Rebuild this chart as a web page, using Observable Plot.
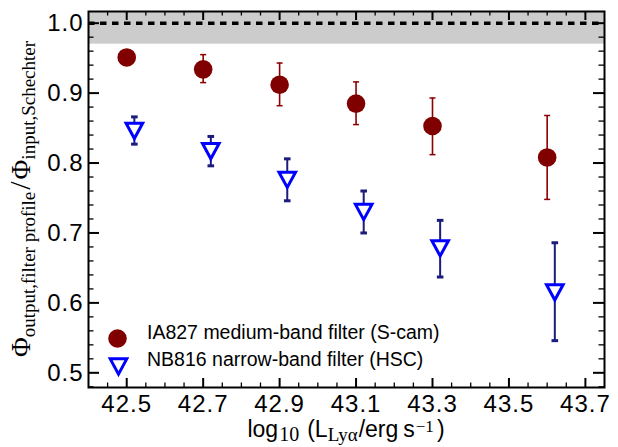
<!DOCTYPE html>
<html><head><meta charset="utf-8">
<script src="https://cdn.jsdelivr.net/npm/d3@7"></script>
<script src="https://cdn.jsdelivr.net/npm/@observablehq/plot@0.6"></script>
<style>
body{margin:0;background:#fff} svg{display:block}
svg [aria-label="x-axis tick label"] text, svg [aria-label="y-axis tick label"] text {letter-spacing: 1px}
</style>
</head><body><div id="chart"></div><script>
// ---- data ----
const xDomain = [42.4, 43.75];
const yDomain = [0.479, 1.0167];
const bandRange = [0.97, 1.0167];
const refLine = [1.0];

const iaX  = [42.5, 42.7, 42.9, 43.1, 43.3, 43.6];
const iaY  = [0.951, 0.934, 0.912, 0.885, 0.853, 0.808];
const iaLo = [0.943, 0.915, 0.882, 0.855, 0.812, 0.748];
const iaHi = [0.959, 0.955, 0.943, 0.916, 0.893, 0.868];

const nbX  = [42.52, 42.72, 42.92, 43.12, 43.32, 43.62];
const nbY  = [0.846, 0.817, 0.776, 0.730, 0.678, 0.615];
const nbLo = [0.827, 0.796, 0.746, 0.700, 0.637, 0.546];
const nbHi = [0.866, 0.838, 0.806, 0.760, 0.718, 0.686];

const xMajor = [42.5, 42.7, 42.9, 43.1, 43.3, 43.5, 43.7];
const xMinor = [42.45, 42.55, 42.6, 42.65, 42.75, 42.8, 42.85, 42.95, 43.0, 43.05, 43.15, 43.2, 43.25, 43.35, 43.4, 43.45, 43.55, 43.6, 43.65];
const yMajor = [0.5, 0.6, 0.7, 0.8, 0.9, 1.0];
const yMinor = [0.48, 0.52, 0.54, 0.56, 0.58, 0.62, 0.64, 0.66, 0.68, 0.72, 0.74, 0.76, 0.78, 0.82, 0.84, 0.86, 0.88, 0.92, 0.94, 0.96, 0.98];

const legendLabels = ["IA827 medium-band filter (S-cam)", "NB816 narrow-band filter (HSC)"];

// ---- tables ----
const ia = iaX.map((x, i) => ({x, y: iaY[i], lo: iaLo[i], hi: iaHi[i]}));
const nb = nbX.map((x, i) => ({x, y: nbY[i], lo: nbLo[i], hi: nbHi[i]}));

// ---- style ----
const W = 618, H = 447, ML = 88, MR = 14, MT = 11, MB = 60;
const FW = W - ML - MR, FH = H - MT - MB;
const maroon = "#800000", errRed = "#8b0000", blue = "#0000ff", navy = "#1c1c7c";
const sans = "'Liberation Sans', Arial, Helvetica, sans-serif";
const serif = "'Liberation Serif', 'Times New Roman', serif";

const capLine = {draw(ctx, size) { const r = Math.sqrt(size / Math.PI); ctx.moveTo(-r, 0); ctx.lineTo(r, 0); }};
const capRect = {draw(ctx, size) { const r = Math.sqrt(size / Math.PI); ctx.rect(-r, -1.5, 2 * r, 3); }};
const triDown = {draw(ctx, size) { const r = Math.sqrt(size / Math.PI); const h = 0.92 * r;
  ctx.moveTo(-r, -h); ctx.lineTo(r, -h); ctx.lineTo(0, h); ctx.closePath(); }};

const majX = 9, minX = 4.5, majY = 11, minY = 5.5;

const chart = Plot.plot({
  width: W, height: H, marginLeft: ML, marginRight: MR, marginTop: MT, marginBottom: MB,
  style: {fontFamily: sans, background: "white", color: "black"},
  x: {domain: xDomain},
  y: {domain: yDomain},
  marks: [
    Plot.rect([bandRange], {x1: () => xDomain[0], x2: () => xDomain[1], y1: d => d[0], y2: d => d[1], fill: "#cccccc"}),
    Plot.ruleY(refLine, {stroke: "black", strokeWidth: 3.5, strokeDasharray: "6.5,5.5"}),
    // inward ticks, all four sides
    Plot.ruleX(xMajor, {insetTop: FH - majX, stroke: "black", strokeWidth: 2}),
    Plot.ruleX(xMajor, {insetBottom: FH - majX, stroke: "black", strokeWidth: 2}),
    Plot.ruleX(xMinor, {insetTop: FH - minX, stroke: "black", strokeWidth: 1.3}),
    Plot.ruleX(xMinor, {insetBottom: FH - minX, stroke: "black", strokeWidth: 1.3}),
    Plot.ruleY(yMajor, {insetRight: FW - majY, stroke: "black", strokeWidth: 2}),
    Plot.ruleY(yMajor, {insetLeft: FW - majY, stroke: "black", strokeWidth: 2}),
    Plot.ruleY(yMinor, {insetRight: FW - minY, stroke: "black", strokeWidth: 1.3}),
    Plot.ruleY(yMinor, {insetLeft: FW - minY, stroke: "black", strokeWidth: 1.3}),
    Plot.axisX(xMajor, {tickSize: 0, tickPadding: 7, fontSize: 24, tickFormat: d => d.toFixed(1), label: null}),
    Plot.axisY(yMajor, {tickSize: 0, tickPadding: 5, fontSize: 24, tickFormat: d => d.toFixed(1), label: null}),
    // error bars
    Plot.ruleX(ia, {x: "x", y1: "lo", y2: "hi", stroke: errRed, strokeWidth: 1.6}),
    Plot.dot(ia, {x: "x", y: "lo", symbol: capLine, r: 3, stroke: errRed, strokeWidth: 1.5, fill: "none"}),
    Plot.dot(ia, {x: "x", y: "hi", symbol: capLine, r: 3, stroke: errRed, strokeWidth: 1.5, fill: "none"}),
    Plot.ruleX(nb, {x: "x", y1: "lo", y2: "hi", stroke: navy, strokeWidth: 2}),
    Plot.dot(nb, {x: "x", y: "lo", symbol: capRect, r: 3.3, fill: navy, stroke: "none"}),
    Plot.dot(nb, {x: "x", y: "hi", symbol: capRect, r: 3.3, fill: navy, stroke: "none"}),
    // markers
    Plot.dot(ia, {x: "x", y: "y", r: 9.3, fill: maroon, stroke: "none"}),
    Plot.dot(nb, {x: "x", y: "y", symbol: triDown, r: 8.3, stroke: blue, strokeWidth: 3, fill: "white", strokeLinejoin: "miter"}),
    // legend
    Plot.dot([0], {frameAnchor: "bottom-left", dx: 29, dy: -49, r: 9.3, fill: maroon, stroke: "none"}),
    Plot.dot([0], {frameAnchor: "bottom-left", dx: 30, dy: -21, symbol: triDown, r: 8.3, stroke: blue, strokeWidth: 3, fill: "white", strokeLinejoin: "miter"}),
    Plot.text([legendLabels[0]], {frameAnchor: "bottom-left", dx: 58.5, dy: -49, text: d => d, textAnchor: "start", fontSize: 19.5, fill: "black"}),
    Plot.text([legendLabels[1]], {frameAnchor: "bottom-left", dx: 58.5, dy: -22, text: d => d, textAnchor: "start", fontSize: 19.5, fill: "black"}),
    Plot.frame({stroke: "black", strokeWidth: 2})
  ]
});
document.getElementById("chart").appendChild(chart);

// ---- rich axis labels ----
function rich(sel, parts) {
  parts.forEach(p => {
    const t = sel.append("tspan").text(p.t)
      .attr("font-family", p.f).attr("font-size", p.s);
    if (p.dy) t.attr("dy", p.dy);
    if (p.dx) t.attr("dx", p.dx);
  });
}
const svg = d3.select(chart);
const xl = svg.append("text")
  .attr("x", ML + FW / 2).attr("y", 437)
  .attr("text-anchor", "middle").attr("fill", "black");
rich(xl, [
  {t: "log", f: sans, s: 23},
  {t: "10", f: serif, s: 20, dy: 4, dx: 1},
  {t: "(", f: sans, s: 23, dy: -4, dx: 8},
  {t: "L", f: sans, s: 23},
  {t: "Lyα", f: serif, s: 19, dy: 4},
  {t: "/erg", f: sans, s: 23, dy: -4, dx: 1},
  {t: "s", f: sans, s: 23, dx: 5},
  {t: "−1", f: serif, s: 17, dy: -5, dx: 1},
  {t: ")", f: sans, s: 23, dy: 5, dx: 3}
]);
const yl = svg.append("text")
  .attr("transform", `translate(30,${MT + FH / 2}) rotate(-90)`)
  .attr("text-anchor", "middle").attr("fill", "black");
rich(yl, [
  {t: "Φ", f: serif, s: 27},
  {t: "output,filter profile", f: serif, s: 19, dy: 5},
  {t: "/", f: serif, s: 30, dy: -5, dx: 2},
  {t: "Φ", f: serif, s: 27, dx: 2},
  {t: "input,Schechter", f: serif, s: 19, dy: 5}
]);
</script></body></html>
